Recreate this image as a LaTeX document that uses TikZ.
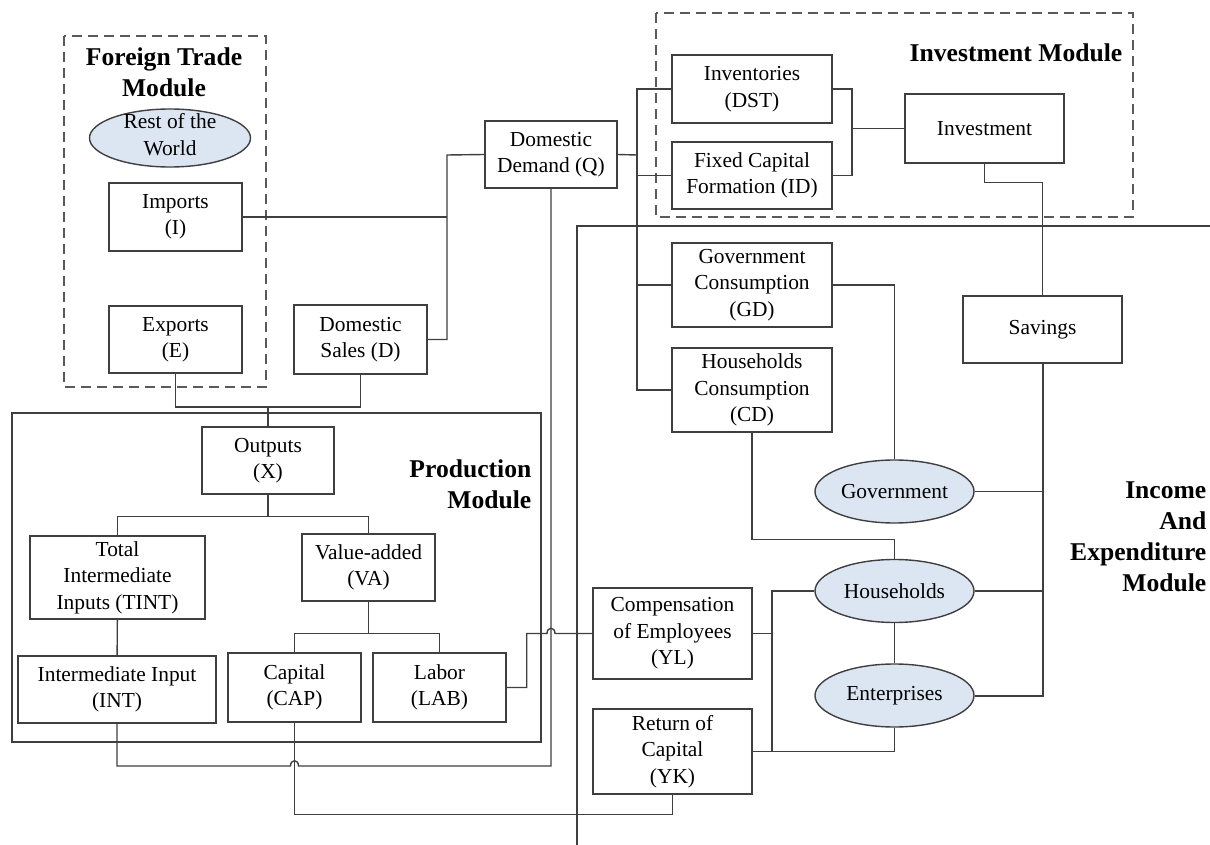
\documentclass[tikz,border=0pt]{standalone}
\usepackage{fontspec}
\setmainfont{Liberation Serif}
\usetikzlibrary{positioning,shapes.geometric}

\definecolor{linegray}{HTML}{3F3F3F}
\definecolor{dashgray}{HTML}{5A5A5A}
\definecolor{agentblue}{HTML}{DCE6F2}
\newcommand{\boxfont}{\fontsize{10.7}{13.2}\selectfont}
\newcommand{\headfont}{\fontsize{12.8}{15.5}\selectfont\bfseries}

\begin{document}
\begin{tikzpicture}[x=0.5pt, y=-0.5pt, color=linegray, line width=0.7pt,
	every node/.style={text=black},
	block/.style={draw, align=center, inner sep=0pt, font=\boxfont, minimum width=66.5pt, minimum height=33.5pt},
	agent/.style={ellipse, draw, fill=agentblue, inner sep=0pt, minimum width=79.5pt, minimum height=31.5pt, label={[font=\boxfont]center:#1}},
	module/.style={font=\headfont, align=center, inner sep=0pt},
	frame/.style={dashgray, dash pattern=on 5pt off 3pt, line width=0.8pt}]
	\useasboundingbox (0,0) rectangle (1210,845);
	\clip (0,0) rectangle (1210,845);

	% module frames
	\draw[frame] (64,36) rectangle (266,387);
	\draw[frame] (656,13) rectangle (1133,217);
	\draw (12,413) rectangle (541,742);
	\draw (1210,226) -| (577,845);

	\node[module] (FTM) at (164,72.5) {Foreign Trade\\Module};
	\node[module, anchor=east] (IM) at (1123,53) {Investment Module};
	\node[module, anchor=east, align=right] (PM) at (532,484) {Production\\Module};
	\node[module, anchor=east, align=right] (IEM) at (1207,536.5) {Income\\And\\Expenditure\\Module};

	% foreign trade and demand
	\node[ellipse, draw, fill=agentblue, minimum width=80.5pt, minimum height=29pt, label={[font=\boxfont, align=center, yshift=1.75pt]center:Rest of the\\World}] (RW) at (170,138) {};
	\node[block, minimum height=34pt] (I) at (175.5,217) {Imports\\(I)};
	\node[block] (E) at (175.5,339.5) {Exports\\(E)};
	\node[block, minimum height=34.5pt] (D) at (360.5,339.5) {Domestic\\Sales (D)};
	\node[block, minimum width=66pt] (Q) at (551,154.5) {Domestic\\Demand (Q)};

	% investment and consumption
	\node[block, minimum width=80pt, minimum height=34pt] (DST) at (752,89) {Inventories\\(DST)};
	\node[block, minimum width=80pt] (ID) at (752,175.5) {Fixed Capital\\Formation (ID)};
	\node[block, minimum width=79.5pt, minimum height=34.5pt] (INV) at (984.5,128.5) {Investment};
	\node[block, minimum width=80pt, minimum height=42pt] (GD) at (752,285) {Government\\Consumption\\(GD)};
	\node[block, minimum width=80pt, minimum height=42pt] (CD) at (752,390) {Households\\Consumption\\(CD)};
	\node[block, minimum width=79.5pt] (SAV) at (1042.5,329.5) {Savings};

	% production
	\node[block, minimum width=66pt] (X) at (268,460.5) {Outputs\\(X)};
	\node[block, minimum width=87.5pt, minimum height=41.5pt] (TINT) at (117.5,577.5) {Total\\Intermediate\\Inputs (TINT)};
	\node[block] (VA) at (368.5,567.5) {Value-added\\(VA)};
	\node[block, minimum width=99pt] (INT) at (117,689.5) {Intermediate Input\\(INT)};
	\node[block, minimum height=34.5pt] (CAP) at (294.5,687.5) {Capital\\(CAP)};
	\node[block, minimum height=34.5pt] (LAB) at (439.5,687.5) {Labor\\(LAB)};

	% income and expenditure
	\node[block, minimum width=79.5pt, minimum height=45.5pt] (YL) at (672.5,633.5) {Compensation\\of Employees\\(YL)};
	\node[block, minimum width=79.5pt, minimum height=42.5pt] (YK) at (672.5,751.5) {Return of\\Capital\\(YK)};
	\node[agent=Government] (GOV) at (894.5,491.5) {};
	\node[agent=Households] (HH) at (894.5,591) {};
	\node[agent=Enterprises] (ENT) at (894.5,695.5) {};

	\coordinate (Qin) at (447,155);
	\coordinate (Xin) at (268,407);
	\coordinate (Qout) at (637,155);
	\coordinate (Iin) at (852,128.5);
	\coordinate (Yin) at (772,591);

	\draw (Q.west) -- (Qin) |- (D.east);
	\draw (I.east) -- (I.east -| Qin);
	\draw (E.south) |- (Xin) -- (X.north);
	\draw (D.south) |- (Xin);

	\draw (Q.east) -- (Qout);
	\draw (DST.west) -| (Qout |- CD.west) -- (CD.west);
	\foreach \n in {ID,GD}
		\draw (\n.west) -- (\n.west -| Qout);
	\draw (DST.east) -| (Iin) |- (ID.east);
	\draw (Iin) -- (INV.west);
	\draw (INV.south) -- ++(0,19) -| (SAV.north);

	\draw[line width=1pt] (SAV.south) |- (ENT.east);
	\foreach \n in {GOV,HH}
		\draw (\n.east) -- (\n.east -| SAV.south);
	\draw (GD.east) -| (GOV.north);
	\draw (CD.south) -- ++(0,107) -| (HH.north);
	\path (HH) edge (ENT);

	\draw[line width=0.9pt] (HH.west) -- (Yin) |- (YK.east);
	\draw (YL.east) -- (YL.east -| Yin);
	\draw (ENT.south) |- (YK.east);

	\draw (X.south) -- ++(0,21.5) -| (TINT.north);
	\draw (X.south) -- ++(0,21.5) -| (VA.north);
	\path (TINT) edge (INT);
	\draw (VA.south) -- ++(0,32) -| (CAP.north);
	\draw (VA.south) -- ++(0,32) -| (LAB.north);

	% crossings with small jumps
	\draw (INT.south) |- (290.5,766) .. controls (290.5,759) and (298.5,759) .. (298.5,766) -| (Q.south);
	\draw (CAP.south) -- ++(0,92) -| (YK.south);
	\draw (LAB.east) -- ++(20,0) |- (547,633.5) .. controls (547,626.5) and (555,626.5) .. (555,633.5) -- (YL.west);
\end{tikzpicture}
\end{document}
